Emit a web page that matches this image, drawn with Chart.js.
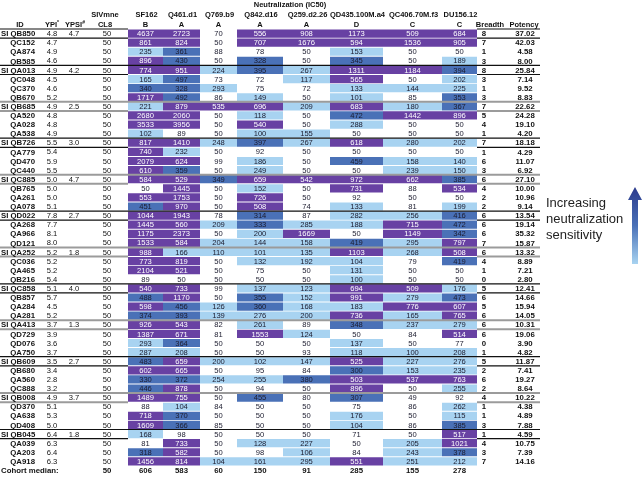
<!DOCTYPE html>
<html>
<head>
<meta charset="utf-8">
<script src="https://cdn.jsdelivr.net/npm/chart.js@4.4.1/dist/chart.umd.min.js"></script>
<style>
  html, body { margin: 0; padding: 0; background: #fff; }
  #wrap { width: 644px; height: 477px; position: relative; }
</style>
</head>
<body>
<div id="wrap"><canvas id="heatCanvas"></canvas></div>
<script>
// --- table data ---
const rowIds = ['SI QB850','QC152','QA874','QB585','SI QA013','QC048','QC370','QB670',
  'SI QB685','QA520','QA028','QA538','SI QB726','QA779','QD470','QC440',
  'SI QC885','QB765','QA261','QA078','SI QD022','QA268','QA966','QD121',
  'SI QA252','QC036','QA465','QB216','SI QC858','QB857','QA284','QA281',
  'SI QA413','QD729','QD076','QA750','SI QB609','QB680','QA560','QC888',
  'SI QB008','QD370','QA638','QD408','SI QB045','QA039','QA203','QA918'];
const ypi = [4.8,4.7,4.9,4.6, 4.9,4.5,4.6,5.2, 4.9,4.8,4.8,4.9, 5.5,5.4,5.9,5.5,
  5.0,5.0,5.0,5.1, 7.8,7.7,8.1,8.0, 5.2,5.2,5.2,5.4, 5.1,5.7,4.5,5.2,
  3.7,3.9,3.6,3.7, 3.5,3.4,2.8,3.2, 4.9,5.1,5.3,5.0, 6.4,6.3,6.4,6.3];
const ypsi = [4.7,null,null,null, 4.2,null,null,null, 2.5,null,null,null, 3.0,null,null,null,
  4.7,null,null,null, 2.7,null,null,null, 1.8,null,null,null, 4.0,null,null,null,
  1.3,null,null,null, 2.7,null,null,null, 3.7,null,null,null, 1.8,null,null,null];
const sivCl8 = [50,50,50,50,50,50,50,50,50,50,50,50,50,50,50,50,50,50,50,50,50,50,50,50,
  50,50,50,50,50,50,50,50,50,50,50,50,50,50,50,50,50,50,50,50,50,50,50,50];

const viruses = ['SF162','Q461.d1','Q769.b9','Q842.d16','Q259.d2.26','QD435.100M.a4','QC406.70M.f3','DU156.12'];
const clades = ['B','A','A','A','A','D','C','C'];

const sf162 = [4637,861,235,896, 774,165,340,1717, 221,2680,3533,102, 817,740,2079,610,
  584,50,553,451, 1044,1445,1175,1533, 988,773,2104,89, 540,488,598,374,
  926,1387,293,287, 483,602,330,446, 1489,88,718,1609, 168,81,318,1456];
const q461 = [2723,824,361,430, 951,497,328,492, 879,2060,3956,89, 1410,232,624,359,
  529,1445,1753,970, 1943,560,2373,584, 166,819,521,50, 733,1170,456,393,
  543,671,364,208, 659,665,372,878, 755,104,370,366, 98,733,582,814];
const q769 = [70,50,88,50, 224,73,293,86, 535,50,50,50, 248,50,99,50,
  349,50,50,50, 78,209,50,204, 110,50,50,50, 99,50,126,139,
  82,81,50,50, 200,50,254,50, 50,84,50,85, 50,50,50,104];
const q842 = [556,707,78,328, 395,72,75,149, 696,118,540,100, 397,92,186,249,
  659,152,726,508, 314,333,200,144, 101,132,75,50, 137,355,360,276,
  261,1553,50,50, 102,95,255,94, 455,50,50,50, 50,128,98,161];
const q259 = [908,1676,50,50, 267,117,72,50, 209,50,50,155, 267,50,50,50,
  542,50,50,74, 87,285,1669,158, 135,192,50,50, 123,152,168,200,
  89,124,50,93, 147,84,380,50, 80,50,50,50, 50,227,106,295];
const qd435 = [1173,594,153,345, 1311,565,133,101, 683,472,288,50, 618,50,459,50,
  972,731,92,133, 282,188,50,419, 1103,104,131,100, 694,991,183,736,
  348,50,137,118, 525,300,503,896, 307,75,176,104, 71,50,84,551];
const qc406 = [509,1536,50,50, 1184,50,144,85, 180,1442,50,50, 280,50,158,239,
  662,88,50,81, 256,715,1149,295, 268,79,50,50, 509,279,776,165,
  237,84,50,100, 227,153,537,50, 49,86,50,86, 50,205,243,251];
const du156 = [684,905,50,189, 394,202,225,353, 367,896,50,50, 202,50,140,150,
  385,534,50,199, 416,472,342,797, 508,419,50,50, 176,473,607,765,
  279,514,77,208, 276,235,763,255, 92,262,115,385, 517,1021,378,212];

const breadth = [8,7,1,3, 8,3,1,3, 7,5,4,1, 7,1,6,3, 6,4,2,2, 6,6,6,7,
  6,4,1,0, 5,6,5,6, 6,6,0,1, 5,2,6,2, 4,1,1,3, 1,4,3,7];
const potency = [37.02,42.03,4.58,8.00, 25.84,7.14,9.52,8.83, 22.62,24.28,19.10,4.20,
  18.18,4.29,11.07,6.92, 27.10,10.00,10.96,9.14, 13.54,19.14,35.32,15.87,
  13.32,8.89,7.21,2.80, 12.41,14.66,15.94,14.05, 10.31,19.06,3.90,4.82,
  11.87,7.41,19.27,8.64, 10.22,4.38,4.89,7.88, 4.59,10.75,7.39,14.16];

const medianCl8 = 50;
const medians = [606,583,60,150,91,285,155,278];

const ic50Columns = [sf162, q461, q769, q842, q259, qd435, qc406, du156];

// --- layout / style ---
const FONT = '"Liberation Sans", Arial, sans-serif';
const colEdges = [128,163,200,237,283,330,383,442,477];
const X = { idLeft: 1, idRight: 35, ypi: 52, ypsi: 74, cl8: 107, breadth: 484, potency: 525, lineEnd: 540 };
const PURPLE = '#6841a3', MIDBLUE = '#4a71b7', LIGHTBLUE = '#a8d3f1';

function cellColor(v) {
    if (v >= 500) return PURPLE;
    if (v >= 300) return MIDBLUE;
    if (v >= 100) return LIGHTBLUE;
    return '#ffffff';
}

const labels = [...rowIds, 'Cohort median:'];
const nRows = labels.length;

const datasets = ic50Columns.map((vals, j) => ({
    label: viruses[j],
    data: [...vals.map(() => [colEdges[j], colEdges[j + 1]]), null],
    backgroundColor: [...vals.map(cellColor), '#ffffff'],
    borderWidth: 0,
    grouped: false,
    barPercentage: 1,
    categoryPercentage: 0.9
}));

const tablePlugin = {
    id: 'tableText',
    afterDatasetsDraw(chart) {
        const { ctx, scales: { x, y } } = chart;
        const rowH = y.getPixelForValue(1) - y.getPixelForValue(0);
        const px = v => x.getPixelForValue(v);
        ctx.save();
        ctx.textBaseline = 'middle';

        // group separators: black / grey alternating
        function hline(yy, x0, x1, color, w) {
            ctx.strokeStyle = color; ctx.lineWidth = w;
            ctx.beginPath(); ctx.moveTo(px(x0), yy); ctx.lineTo(px(x1), yy); ctx.stroke();
        }
        let g = -1;
        rowIds.forEach((id, i) => {
            if (!id.startsWith('SI ')) return;
            g++;
            const top = y.getPixelForValue(i) - rowH / 2;
            const bot = y.getPixelForValue(i) + rowH / 2;
            const dark = g === 0 || g % 2 === 1;
            const color = dark ? '#111' : '#9b9b9b';
            const w = dark ? 1.2 : 2;
            if (g === 0) {
                hline(top, 0, colEdges[0], color, w);
                hline(top, colEdges[8], X.lineEnd, color, w);
            } else {
                hline(top, 0, X.lineEnd, color, w);
            }
            hline(bot, 0, colEdges[0], color, w);
            hline(bot, colEdges[8], X.lineEnd, color, w);
        });

        // header
        const HF = 'bold 7.5px ' + FONT;
        ctx.fillStyle = '#111';
        ctx.font = HF;
        ctx.textAlign = 'center';
        ctx.fillText('Neutralization (IC50)', px(290), 5);
        ctx.fillText('SIVmne', px(X.cl8 - 2), 15);
        viruses.forEach((v, j) => {
            const cx = px((colEdges[j] + colEdges[j + 1]) / 2);
            ctx.fillText(v, cx + 1, 15);
            ctx.fillText(clades[j], cx, 24.5);
        });
        ctx.fillText('ID', px(20), 24.5);
        ctx.fillText('CL8', px(X.cl8 - 2), 24.5);
        ctx.fillText('Breadth', px(X.breadth + 6), 24.5);
        ctx.fillText('Potency', px(X.potency - 1), 24.5);
        function supText(base, sup, cx) {
            const wb = ctx.measureText(base).width;
            ctx.font = 'bold 5px ' + FONT;
            const ws = ctx.measureText(sup).width;
            ctx.textAlign = 'left';
            const x0 = px(cx) - (wb + ws) / 2;
            ctx.fillText(sup, x0 + wb, 22.5);
            ctx.font = HF;
            ctx.fillText(base, x0, 24.5);
            ctx.textAlign = 'center';
        }
        supText('YPI', '*', X.ypi);
        supText('YPSI', '#', X.ypsi + 1);

        // body rows
        rowIds.forEach((id, i) => {
            const cy = y.getPixelForValue(i) + 0.5;
            ctx.fillStyle = '#111';
            ctx.font = 'bold 7.8px ' + FONT;
            if (id.startsWith('SI ')) { ctx.textAlign = 'left'; ctx.fillText(id, px(X.idLeft), cy); }
            else { ctx.textAlign = 'right'; ctx.fillText(id, px(X.idRight), cy); }
            ctx.font = '7.6px ' + FONT;
            ctx.textAlign = 'center';
            ctx.fillText(ypi[i].toFixed(1), px(X.ypi), cy);
            if (ypsi[i] !== null) ctx.fillText(ypsi[i].toFixed(1), px(X.ypsi), cy);
            ctx.fillText(String(sivCl8[i]), px(X.cl8), cy);
            ic50Columns.forEach((vals, j) => {
                const v = vals[i];
                ctx.fillStyle = v >= 500 ? '#ffffff' : '#1b1b2e';
                ctx.fillText(String(v), px((colEdges[j] + colEdges[j + 1]) / 2), cy);
            });
            ctx.fillStyle = '#111';
            ctx.font = 'bold 7.8px ' + FONT;
            ctx.fillText(String(breadth[i]), px(X.breadth), cy);
            ctx.fillText(potency[i].toFixed(2), px(X.potency), cy);
        });

        // cohort median row
        const my = y.getPixelForValue(nRows - 1) + 0.5;
        ctx.font = 'bold 7.8px ' + FONT;
        ctx.textAlign = 'left';
        ctx.fillText(labels[nRows - 1], px(X.idLeft), my);
        ctx.textAlign = 'center';
        ctx.fillText(String(medianCl8), px(X.cl8), my);
        medians.forEach((m, j) => ctx.fillText(String(m), px((colEdges[j] + colEdges[j + 1]) / 2), my));

        // legend: text + gradient arrow
        ctx.font = '13px ' + FONT;
        ctx.textAlign = 'left';
        ctx.fillStyle = '#222';
        ['Increasing', 'neutralization', 'sensitivity'].forEach((t, k) => ctx.fillText(t, 546, 203 + k * 16));
        const ax = 635, tipY = 187, headY = 200, botY = 264;
        const grad = ctx.createLinearGradient(0, tipY, 0, botY);
        grad.addColorStop(0, '#2b3a8c');
        grad.addColorStop(0.5, '#4a71b7');
        grad.addColorStop(1, '#a8d3f1');
        ctx.fillStyle = grad;
        ctx.beginPath();
        ctx.moveTo(ax, tipY);
        ctx.lineTo(ax + 7, headY);
        ctx.lineTo(ax + 3, headY);
        ctx.lineTo(ax + 3, botY);
        ctx.lineTo(ax - 3, botY);
        ctx.lineTo(ax - 3, headY);
        ctx.lineTo(ax - 7, headY);
        ctx.closePath();
        ctx.fill();
        ctx.restore();
    }
};

new Chart(document.getElementById('heatCanvas'), {
    type: 'bar',
    data: { labels: labels, datasets: datasets },
    plugins: [tablePlugin],
    options: {
        indexAxis: 'y',
        responsive: true,
        maintainAspectRatio: false,
        animation: false,
        layout: { padding: { top: 29, bottom: 2, left: 0, right: 0 } },
        scales: {
            x: { type: 'linear', min: 0, max: 644, display: false },
            y: { type: 'category', display: false, offset: true }
        },
        plugins: { legend: { display: false }, tooltip: { enabled: false } }
    }
});
</script>
</body>
</html>
